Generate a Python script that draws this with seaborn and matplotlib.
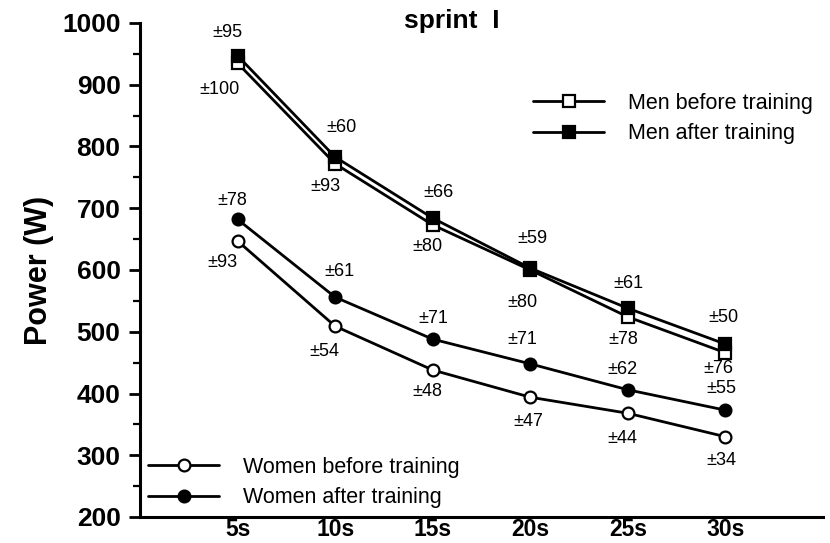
import numpy as np
import pandas as pd
import matplotlib
matplotlib.use("Agg")
import matplotlib.pyplot as plt
import seaborn as sns

# data
times = ["5s", "10s", "15s", "20s", "25s", "30s"]
men_before = [935, 772, 673, 600, 524, 466]
men_after = [947, 783, 684, 603, 538, 480]
women_before = [647, 509, 438, 394, 368, 330]
women_after = [682, 556, 488, 448, 406, 373]

men_before_sd = [100, 93, 80, 80, 78, 76]
men_after_sd = [95, 60, 66, 59, 61, 50]
women_before_sd = [93, 54, 48, 47, 44, 34]
women_after_sd = [78, 61, 71, 71, 62, 55]

# label offsets in pixels (dx, dy) relative to each point
men_before_off = [(-18, -26), (-10, -23), (-5, -22), (-8, -33), (-5, -23), (-7, -16)]
men_after_off = [(-10, 23), (6, 29), (6, 26), (2, 30), (1, 25), (-2, 27)]
women_before_off = [(-15, -22), (-11, -25), (-5, -21), (-2, -24), (-5, -25), (-4, -24)]
women_after_off = [(-5, 19), (4, 26), (1, 21), (-8, 24), (-5, 20), (-4, 22)]

sns.set_theme(style="ticks")
plt.rcParams['font.family'] = ['Liberation Sans', 'DejaVu Sans']
plt.rcParams['text.color'] = 'black'
plt.rcParams['axes.labelcolor'] = 'black'
plt.rcParams['xtick.color'] = 'black'
plt.rcParams['ytick.color'] = 'black'
plt.rcParams['axes.edgecolor'] = 'black'

fig = plt.figure(figsize=(8.3, 5.43), dpi=100)
ax = fig.add_axes([140 / 830, 1 - 517 / 543, 683 / 830, 494 / 543])

pos = np.arange(len(times))

series = [
    ("Men before training", men_before, "s", "white", men_before_sd, men_before_off),
    ("Men after training", men_after, "s", "black", men_after_sd, men_after_off),
    ("Women before training", women_before, "o", "white", women_before_sd, women_before_off),
    ("Women after training", women_after, "o", "black", women_after_sd, women_after_off),
]

for name, vals, mk, fc, sd, off in series:
    df = pd.DataFrame({"pos": pos, "power": vals})
    sns.lineplot(data=df, x="pos", y="power", ax=ax, color="black", lw=2,
                 marker=mk, markersize=8.5, markerfacecolor=fc,
                 markeredgecolor="black", markeredgewidth=1.6, label=name)
    for x, y, s, (dx, dy) in zip(pos, vals, sd, off):
        ax.annotate(f"±{s}", (x, y), xytext=(dx, dy), textcoords="offset pixels",
                    ha="center", va="center", fontsize=13)

handles, labels = ax.get_legend_handles_labels()
ax.get_legend().remove()

leg_kw = dict(loc="upper left", frameon=False, fontsize=15.5, handlelength=3.3,
              handletextpad=1.1, borderpad=0, borderaxespad=0, labelspacing=0.42)
leg_m = ax.legend(handles[:2], labels[:2],
                  bbox_to_anchor=((533 - 140) / 683, (517 - 93) / 494), **leg_kw)
ax.add_artist(leg_m)
ax.legend(handles[2:], labels[2:],
          bbox_to_anchor=((148 - 140) / 683, (517 - 457) / 494), **leg_kw)

ax.set_xlim(-1, 6)
ax.set_ylim(200, 1000)
ax.set_xticks(pos)
ax.set_xticklabels(times, fontsize=16.5, fontweight="bold")
ax.set_yticks(np.arange(200, 1001, 100))
ax.set_yticks(np.arange(250, 1000, 100), minor=True)
ax.tick_params(axis="y", which="major", length=8, width=2, labelsize=19, pad=6)
ax.tick_params(axis="y", which="minor", length=5, width=1.6)
ax.tick_params(axis="x", length=0, pad=1)
for lab in ax.get_yticklabels():
    lab.set_fontweight("bold")

ax.set_xlabel("")
ax.set_ylabel("Power (W)", fontsize=22, fontweight="bold", labelpad=6)
sns.despine(ax=ax)
ax.spines["left"].set_linewidth(2.2)
ax.spines["bottom"].set_linewidth(2.2)

fig.text(452 / 830, 1 - 21 / 543, "sprint  I", ha="center", va="center",
         fontsize=19, fontweight="bold")

fig.savefig("out.png", dpi=100)
